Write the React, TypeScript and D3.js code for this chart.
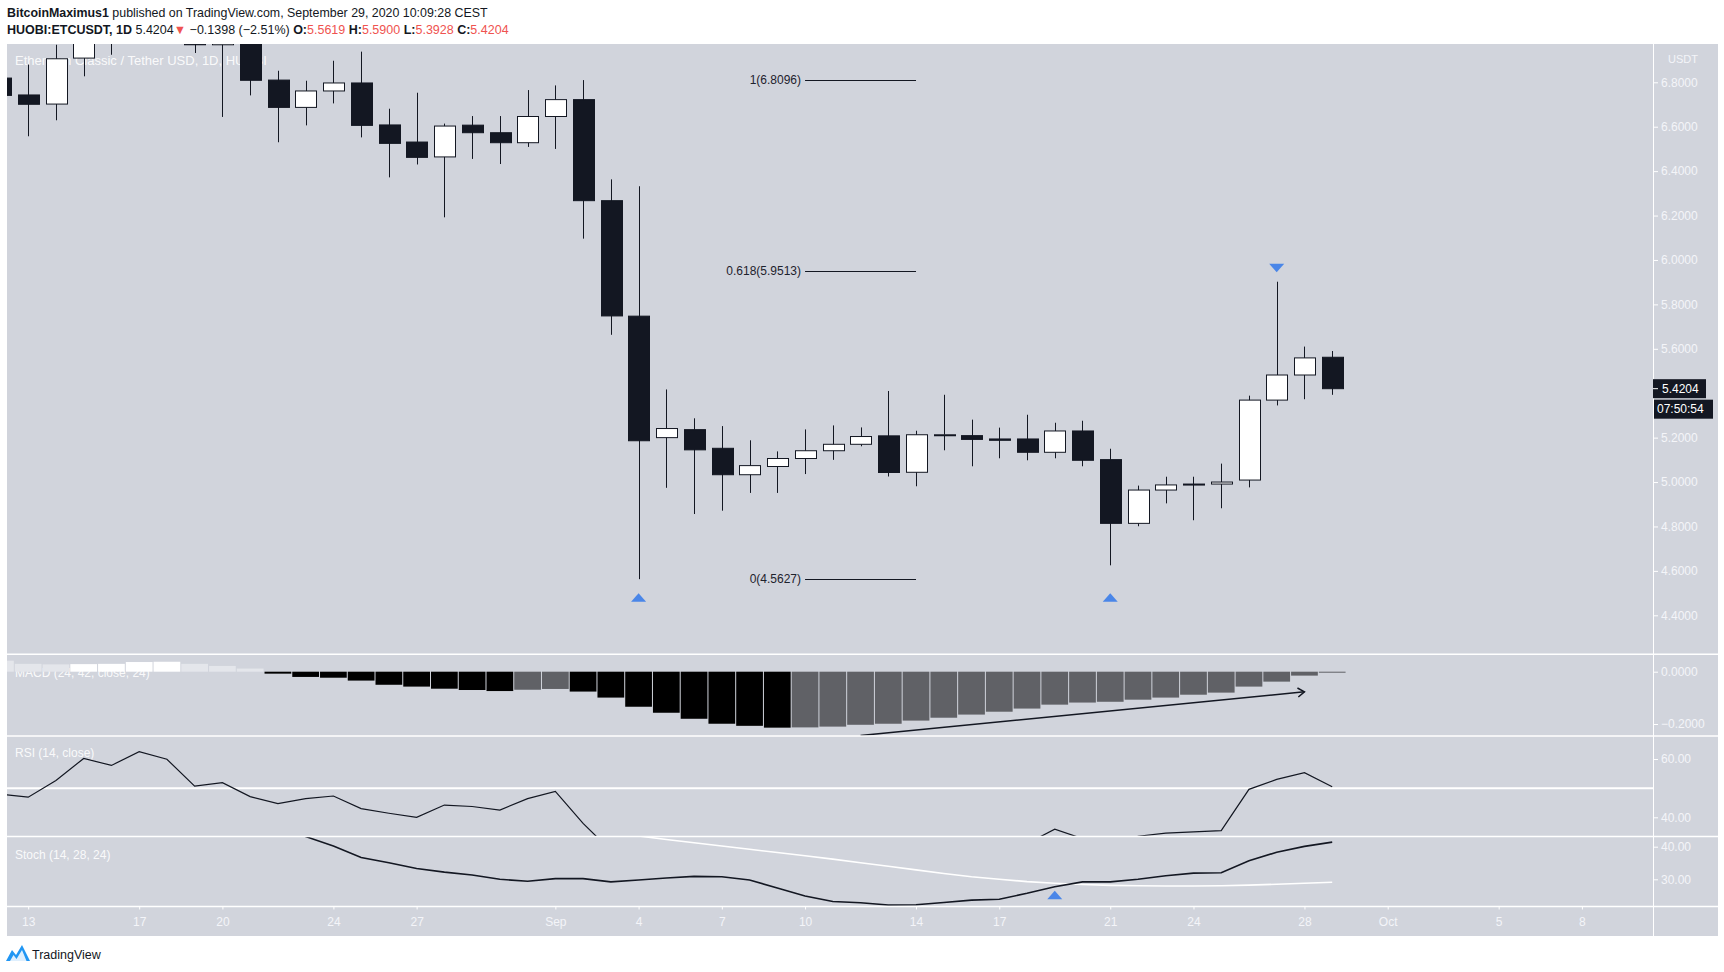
import React, { useEffect, useRef } from 'react';
import * as d3 from 'd3';

// ---- candles (1D, HUOBI:ETCUSDT) ----
const dates = [
  '2020-08-12', '2020-08-13', '2020-08-14', '2020-08-15', '2020-08-16', '2020-08-17', '2020-08-18',
  '2020-08-19', '2020-08-20', '2020-08-21', '2020-08-22', '2020-08-23', '2020-08-24', '2020-08-25',
  '2020-08-26', '2020-08-27', '2020-08-28', '2020-08-29', '2020-08-30', '2020-08-31', '2020-09-01',
  '2020-09-02', '2020-09-03', '2020-09-04', '2020-09-05', '2020-09-06', '2020-09-07', '2020-09-08',
  '2020-09-09', '2020-09-10', '2020-09-11', '2020-09-12', '2020-09-13', '2020-09-14', '2020-09-15',
  '2020-09-16', '2020-09-17', '2020-09-18', '2020-09-19', '2020-09-20', '2020-09-21', '2020-09-22',
  '2020-09-23', '2020-09-24', '2020-09-25', '2020-09-26', '2020-09-27', '2020-09-28', '2020-09-29',
];
const opens = [
  6.819, 6.743, 6.702, 6.909, 7.06, 7.01, 7.25, 7.2, 6.969, 7.01, 6.81, 6.687, 6.761, 6.797,
  6.608, 6.531, 6.464, 6.607, 6.573, 6.528, 6.646, 6.722, 6.267, 5.747, 5.2, 5.236, 5.152, 5.033,
  5.07, 5.106, 5.141, 5.17, 5.208, 5.044, 5.212, 5.209, 5.194, 5.194, 5.134, 5.23, 5.101, 4.814,
  4.964, 4.991, 4.991, 5.009, 5.369, 5.482, 5.5619,
];
const highs = [
  6.86, 6.88, 6.969, 7.12, 7.18, 7.35, 7.4, 7.26, 7.12, 7.06, 6.852, 6.807, 6.897, 6.938,
  6.681, 6.753, 6.614, 6.648, 6.648, 6.765, 6.786, 6.81, 6.363, 6.332, 5.417, 5.287, 5.252, 5.188,
  5.138, 5.237, 5.255, 5.246, 5.41, 5.231, 5.393, 5.281, 5.245, 5.303, 5.267, 5.276, 5.15, 4.984,
  5.024, 5.024, 5.083, 5.389, 5.902, 5.61, 5.59,
];
const lows = [
  6.7, 6.557, 6.629, 6.827, 6.924, 6.99, 7.05, 6.932, 6.644, 6.741, 6.53, 6.606, 6.705, 6.552,
  6.372, 6.43, 6.192, 6.455, 6.432, 6.509, 6.5, 6.096, 5.663, 4.5627, 4.974, 4.856, 4.871, 4.951,
  4.951, 5.036, 5.1, 5.161, 5.025, 4.981, 5.143, 5.071, 5.107, 5.098, 5.107, 5.071, 4.625, 4.801,
  4.904, 4.828, 4.882, 4.976, 5.345, 5.373, 5.3928,
];
const closes = [
  6.741, 6.701, 6.906, 7.06, 7.01, 7.25, 7.2, 6.969, 7.01, 6.809, 6.687, 6.761, 6.797, 6.606,
  6.525, 6.462, 6.603, 6.573, 6.528, 6.646, 6.722, 6.267, 5.748, 5.186, 5.241, 5.145, 5.033, 5.074,
  5.106, 5.141, 5.17, 5.205, 5.043, 5.213, 5.213, 5.192, 5.188, 5.134, 5.23, 5.098, 4.814, 4.964,
  4.987, 4.987, 5.0, 5.369, 5.482, 5.559, 5.4204,
];

// ---- indicators (same dates as candles unless a start date is given) ----
const macdHist = [
  0.042, 0.03, 0.028, 0.029, 0.03, 0.037, 0.038, 0.03, 0.022, 0.012, -0.0075, -0.02, -0.023, -0.034,
  -0.05, -0.057, -0.065, -0.07, -0.074, -0.069, -0.066, -0.076, -0.099, -0.134, -0.157, -0.18, -0.199, -0.207,
  -0.214, -0.213, -0.21, -0.203, -0.199, -0.187, -0.176, -0.164, -0.153, -0.141, -0.126, -0.118, -0.115, -0.107,
  -0.099, -0.088, -0.08, -0.057, -0.038, -0.015, -0.001,
];
const rsiValues = [
  47.9, 46.9, 52.6, 60.2, 57.8, 62.5, 59.9, 50.7, 51.9, 47.1, 44.7, 46.4, 47.3, 43.0,
  41.4, 40.0, 44.2, 43.7, 42.5, 46.4, 48.9, 37.9, 28.6, 23.5, 24.5, 23.6, 22.8, 23.8,
  24.8, 25.8, 26.7, 27.9, 26.5, 29.3, 29.4, 29.1, 29.0, 31.0, 35.9, 32.7, 27.5, 33.5,
  34.6, 35.0, 35.4, 49.6, 53.0, 55.3, 50.5,
];
const stochKStart = '2020-08-22';
const stochK = [
  47.5, 43.1, 40.2, 36.7, 35.1, 33.3, 32.2, 31.3, 30.0, 29.4, 30.2, 30.2, 29.2, 29.8, 30.4,
  30.9, 30.8, 29.8, 27.3, 24.9, 23.2, 22.8, 22.1, 22.2, 22.9, 23.6, 23.9, 25.7, 27.7, 29.2,
  29.2, 30.0, 31.1, 31.9, 32.0, 35.7, 38.3, 40.1, 41.4,
];
const stochDStart = '2020-09-03';
const stochD = [
  44.6, 43.3, 42.2, 41.2, 40.2, 39.2, 38.2, 37.2, 36.2, 35.1, 34.0, 32.9, 31.8, 30.8, 30.0,
  29.3, 28.8, 28.4, 28.15, 28.0, 27.95, 27.94, 28.0, 28.2, 28.5, 28.8, 29.1,
];

// ---- ticks (5.4000 sits under the last-price tag, so it is not shown) ----
const priceTicks = [4.4, 4.6, 4.8, 5.0, 5.2, 5.6, 5.8, 6.0, 6.2, 6.4, 6.6, 6.8];
const macdTicks = [0, -0.2];
const rsiTicks = [60, 40];
const stochTicks = [40, 30];
const dateTicks = [
  '2020-08-13', '2020-08-17', '2020-08-20', '2020-08-24', '2020-08-27', '2020-09-01', '2020-09-04',
  '2020-09-07', '2020-09-10', '2020-09-14', '2020-09-17', '2020-09-21', '2020-09-24', '2020-09-28',
  '2020-10-01', '2020-10-05', '2020-10-08',
];

// ---- drawings ----
const fibRatios = ['1', '0.618', '0'];
const fibPrices = [6.8096, 5.9513, 4.5627];
const fibFrom = '2020-09-10';
const fibTo = '2020-09-14';
const macdArrowDates = ['2020-09-12', '2020-09-28'];
const macdArrowValues = [-0.244, -0.077];
const markerDates = ['2020-09-04', '2020-09-21', '2020-09-27', '2020-09-19'];
const markerPanes = ['main', 'main', 'main', 'stoch'];
const markerValues = [4.48, 4.48, 5.964, 25.2];
const markerDirs = ['up', 'up', 'down', 'up'];

const FONT = '"Liberation Sans", Arial, sans-serif';
const BG = '#d1d4dc';
const INK = '#131722';
const AXIS_TEXT = '#f4f5f9';
const RED = '#ef5350';
const BLUE = '#4a86e8';

const LEFT = 7;
const AXIS_X = 1653;
const RIGHT = 1718;
const TOP = 44;
const MAIN_B = 654.3;
const MACD_B = 736;
const RSI_B = 836.5;
const STOCH_B = 906.5;
const BOTTOM = 936;

const App: React.FC = () => {
  const svgRef = useRef<SVGSVGElement>(null);

  useEffect(() => {
    if (!svgRef.current) return;
    const svg = d3.select(svgRef.current);
    svg.selectAll('*').remove();

    const parse = d3.utcParse('%Y-%m-%d');
    const pd = (s: string) => parse(s) as Date;

    const x = d3.scaleUtc()
      .domain([pd('2020-08-13'), pd('2020-10-08')])
      .range([28.2, 1581.9]);
    const dayW = x(pd('2020-08-14')) - x(pd('2020-08-13'));

    const yMain = d3.scaleLinear().domain([4.4, 6.8]).range([615.3, 82.3]);
    const yMacd = d3.scaleLinear().domain([-0.2, 0]).range([724, 671.7]);
    const yRsi = d3.scaleLinear().domain([40, 60]).range([817.3, 759]);
    const yStoch = d3.scaleLinear().domain([30, 40]).range([879.3, 846.7]);

    // clip paths for panes
    const defs = svg.append('defs');
    const clip = (id: string, y0: number, y1: number) => {
      defs.append('clipPath').attr('id', id)
        .append('rect').attr('x', LEFT).attr('y', y0).attr('width', AXIS_X - LEFT).attr('height', y1 - y0);
    };
    clip('clipMain', TOP, MAIN_B);
    clip('clipMacd', MAIN_B, MACD_B);
    clip('clipRsi', MACD_B, RSI_B);
    clip('clipStoch', RSI_B, STOCH_B);

    // background
    svg.append('rect').attr('x', 0).attr('y', 0).attr('width', 1724).attr('height', 972).attr('fill', '#ffffff');
    svg.append('rect').attr('x', LEFT).attr('y', TOP).attr('width', RIGHT - LEFT).attr('height', BOTTOM - TOP).attr('fill', BG);

    // pane titles (drawn under marks)
    const paneLabel = (t: string, y: number, size: number) => {
      svg.append('text').attr('x', 15).attr('y', y).attr('font-family', FONT).attr('font-size', size)
        .attr('fill', '#ffffff').attr('fill-opacity', 0.9).text(t);
    };
    paneLabel('Ethereum Classic / Tether USD, 1D, HUOBI', 65, 13);
    paneLabel('MACD (24, 42, close, 24)', 677, 12);
    paneLabel('RSI (14, close)', 757, 12);
    paneLabel('Stoch (14, 28, 24)', 859, 12);

    // ---- main pane: candles ----
    const candles = dates.map((d, i) => ({
      date: pd(d), open: opens[i], high: highs[i], low: lows[i], close: closes[i],
    }));
    const gMain = svg.append('g').attr('clip-path', 'url(#clipMain)');
    const bodyW = dayW * 0.74;

    gMain.selectAll('.wick')
      .data(candles)
      .enter()
      .append('line')
      .attr('class', 'wick')
      .attr('x1', d => Math.round(x(d.date)) + 0.5)
      .attr('x2', d => Math.round(x(d.date)) + 0.5)
      .attr('y1', d => yMain(d.high))
      .attr('y2', d => yMain(d.low))
      .attr('stroke', INK)
      .attr('stroke-width', 1);

    gMain.selectAll('.body')
      .data(candles)
      .enter()
      .append('rect')
      .attr('class', 'body')
      .attr('x', d => Math.round(x(d.date) - bodyW / 2) + 0.5)
      .attr('y', d => yMain(Math.max(d.open, d.close)))
      .attr('width', Math.round(bodyW))
      .attr('height', d => Math.max(1, Math.abs(yMain(d.open) - yMain(d.close))))
      .attr('fill', d => (d.close >= d.open ? '#ffffff' : INK))
      .attr('stroke', INK)
      .attr('stroke-width', 1);

    // fib retracement
    const fibX0 = x(pd(fibFrom));
    const fibX1 = x(pd(fibTo));
    fibPrices.forEach((p, i) => {
      gMain.append('line')
        .attr('x1', fibX0).attr('x2', fibX1)
        .attr('y1', Math.round(yMain(p)) + 0.5).attr('y2', Math.round(yMain(p)) + 0.5)
        .attr('stroke', INK).attr('stroke-width', 1);
      gMain.append('text')
        .attr('x', fibX0 - 4).attr('y', yMain(p)).attr('dy', '0.35em')
        .attr('text-anchor', 'end').attr('font-family', FONT).attr('font-size', 12)
        .attr('fill', '#1e222d')
        .text(`${fibRatios[i]}(${p.toFixed(4)})`);
    });

    // ---- MACD histogram ----
    const gMacd = svg.append('g').attr('clip-path', 'url(#clipMacd)');
    const macdData = dates.map((d, i) => ({ date: pd(d), v: macdHist[i], prev: i > 0 ? macdHist[i - 1] : macdHist[i] + 0.01 }));
    const histColor = (v: number, prev: number) => {
      if (v >= 0) return v > prev ? '#ffffff' : '#e4e6eb';
      return v < prev ? '#000000' : '#606166';
    };
    gMacd.selectAll('.hist')
      .data(macdData)
      .enter()
      .append('rect')
      .attr('x', d => x(d.date) - dayW / 2 + 0.5)
      .attr('width', dayW - 1)
      .attr('y', d => Math.min(yMacd(0), yMacd(d.v)))
      .attr('height', d => Math.max(1, Math.abs(yMacd(d.v) - yMacd(0))))
      .attr('fill', d => histColor(d.v, d.prev));

    // arrow annotation on MACD
    const ax0 = x(pd(macdArrowDates[0]));
    const ay0 = yMacd(macdArrowValues[0]);
    const ax1 = x(pd(macdArrowDates[1]));
    const ay1 = yMacd(macdArrowValues[1]);
    gMacd.append('line').attr('x1', ax0).attr('y1', ay0).attr('x2', ax1).attr('y2', ay1)
      .attr('stroke', INK).attr('stroke-width', 1.5);
    const ang = Math.atan2(ay1 - ay0, ax1 - ax0);
    const ah = 8;
    const headPts: [number, number][] = [
      [ax1 - ah * Math.cos(ang - 0.6), ay1 - ah * Math.sin(ang - 0.6)],
      [ax1, ay1],
      [ax1 - ah * Math.cos(ang + 0.6), ay1 - ah * Math.sin(ang + 0.6)],
    ];
    gMacd.append('path').attr('d', d3.line()(headPts))
      .attr('fill', 'none').attr('stroke', INK).attr('stroke-width', 1.5);

    // ---- RSI ----
    const gRsi = svg.append('g').attr('clip-path', 'url(#clipRsi)');
    gRsi.append('line').attr('x1', LEFT).attr('x2', AXIS_X)
      .attr('y1', yRsi(50)).attr('y2', yRsi(50))
      .attr('stroke', '#ffffff').attr('stroke-width', 2);
    const rsiLine = d3.line<number>()
      .x((_d, i) => x(pd(dates[i])))
      .y(d => yRsi(d));
    gRsi.append('path').attr('d', rsiLine(rsiValues))
      .attr('fill', 'none').attr('stroke', INK).attr('stroke-width', 1.2);

    // ---- Stochastic ----
    const gSt = svg.append('g').attr('clip-path', 'url(#clipStoch)');
    const kStart = pd(stochKStart);
    const dStart = pd(stochDStart);
    const stLine = (start: Date) => d3.line<number>()
      .x((_d, i) => x(d3.utcDay.offset(start, i)))
      .y(d => yStoch(d));
    gSt.append('path').attr('d', stLine(dStart)(stochD))
      .attr('fill', 'none').attr('stroke', '#ffffff').attr('stroke-width', 1.6);
    gSt.append('path').attr('d', stLine(kStart)(stochK))
      .attr('fill', 'none').attr('stroke', INK).attr('stroke-width', 1.6);

    // ---- markers ----
    markerDates.forEach((md, i) => {
      const cx = x(pd(md));
      const cy = markerPanes[i] === 'main' ? yMain(markerValues[i]) : yStoch(markerValues[i]);
      const hw = 7.5;
      const hh = 4.2;
      const pts: [number, number][] = markerDirs[i] === 'up'
        ? [[cx - hw, cy + hh], [cx + hw, cy + hh], [cx, cy - hh]]
        : [[cx - hw, cy - hh], [cx + hw, cy - hh], [cx, cy + hh]];
      const g = markerPanes[i] === 'main' ? gMain : gSt;
      g.append('path').attr('d', d3.line()(pts) + 'Z').attr('fill', BLUE);
    });

    // ---- separators & axis line ----
    [MAIN_B, MACD_B, RSI_B, STOCH_B].forEach(y => {
      svg.append('line').attr('x1', LEFT).attr('x2', RIGHT).attr('y1', y).attr('y2', y)
        .attr('stroke', '#ffffff').attr('stroke-width', 1.5);
    });
    svg.append('line').attr('x1', AXIS_X + 0.5).attr('x2', AXIS_X + 0.5).attr('y1', TOP).attr('y2', BOTTOM)
      .attr('stroke', '#ffffff').attr('stroke-width', 1);

    // ---- price axes ----
    const drawY = (scale: d3.ScaleLinear<number, number>, ticks: number[], fmt: (n: number) => string) => {
      const g = svg.append('g')
        .attr('transform', `translate(${AXIS_X},0)`)
        .call(d3.axisRight(scale).tickValues(ticks).tickFormat(d => fmt(d as number)).tickSize(5).tickPadding(3));
      g.select('.domain').remove();
      g.attr('font-family', FONT).attr('font-size', 12);
      g.selectAll('.tick line').attr('stroke', '#ffffff');
      g.selectAll('.tick text').attr('fill', AXIS_TEXT);
    };
    drawY(yMain, priceTicks, d3.format('.4f'));
    drawY(yMacd, macdTicks, d3.format('.4f'));
    drawY(yRsi, rsiTicks, d3.format('.2f'));
    drawY(yStoch, stochTicks, d3.format('.2f'));

    svg.append('text').attr('x', 1698).attr('y', 62.5).attr('text-anchor', 'end')
      .attr('font-family', FONT).attr('font-size', 11).attr('fill', AXIS_TEXT).text('USDT');

    // last price + countdown
    const lastY = yMain(closes[closes.length - 1]);
    svg.append('rect').attr('x', AXIS_X).attr('y', lastY - 9.5).attr('width', 53).attr('height', 19).attr('fill', INK);
    svg.append('line').attr('x1', AXIS_X).attr('x2', AXIS_X + 5).attr('y1', lastY).attr('y2', lastY)
      .attr('stroke', '#ffffff');
    svg.append('text').attr('x', AXIS_X + 9).attr('y', lastY).attr('dy', '0.35em')
      .attr('font-family', FONT).attr('font-size', 12).attr('fill', '#ffffff')
      .text(closes[closes.length - 1].toFixed(4));
    svg.append('rect').attr('x', AXIS_X + 1).attr('y', lastY + 11).attr('width', 59).attr('height', 19).attr('fill', INK);
    svg.append('text').attr('x', AXIS_X + 4).attr('y', lastY + 20.5).attr('dy', '0.35em')
      .attr('font-family', FONT).attr('font-size', 12).attr('fill', '#ffffff').text('07:50:54');

    // ---- time axis ----
    const fmtDate = (d: Date) => (d.getUTCDate() === 1 ? d3.utcFormat('%b')(d) : d3.utcFormat('%-d')(d));
    const gx = svg.append('g')
      .attr('transform', `translate(0,${STOCH_B})`)
      .call(d3.axisBottom(x).tickValues(dateTicks.map(pd)).tickFormat(d => fmtDate(d as Date)).tickSize(3).tickPadding(8));
    gx.select('.domain').remove();
    gx.attr('font-family', FONT).attr('font-size', 12);
    gx.selectAll('.tick line').attr('stroke', '#ffffff');
    gx.selectAll('.tick text').attr('fill', AXIS_TEXT);

    // ---- header ----
    const h1 = svg.append('text').attr('x', 7).attr('y', 17).attr('font-family', FONT).attr('font-size', 12.4).attr('fill', INK);
    h1.append('tspan').attr('font-weight', 'bold').text('BitcoinMaximus1');
    h1.append('tspan').text(' published on TradingView.com, September 29, 2020 10:09:28 CEST');

    const h2 = svg.append('text').attr('x', 7).attr('y', 34).attr('font-family', FONT).attr('font-size', 12.5).attr('fill', INK);
    const parts: [string, boolean, boolean][] = [
      ['HUOBI:ETCUSDT, 1D', true, false],
      ['\u00a05.4204', false, false],
      ['\u25BC', false, true],
      ['\u00a0\u22120.1398 (\u22122.51%)\u00a0', false, false],
      ['O:', true, false], ['5.5619', false, true],
      ['\u00a0H:', true, false], ['5.5900', false, true],
      ['\u00a0L:', true, false], ['5.3928', false, true],
      ['\u00a0C:', true, false], ['5.4204', false, true],
    ];
    parts.forEach(([t, bold, red]) => {
      h2.append('tspan')
        .attr('font-weight', bold ? 'bold' : 'normal')
        .attr('fill', red ? RED : INK)
        .text(t);
    });

    // ---- footer logo ----
    const logo = svg.append('g').attr('transform', 'translate(6,945)');
    logo.append('path')
      .attr('d', 'M0 16 L6 5 L10 10 L16 0 L24 16 Z')
      .attr('fill', '#2196f3');
    logo.append('path')
      .attr('d', 'M4 16 L7.5 10 L10.5 14 L16 5 L20.5 16 Z')
      .attr('fill', '#ffffff').attr('fill-opacity', 0.85);
    svg.append('text').attr('x', 32).attr('y', 958.5).attr('font-family', FONT).attr('font-size', 12.5)
      .attr('fill', INK).text('TradingView');
  }, []);

  return (
    <svg
      ref={svgRef}
      width={1724}
      height={972}
      style={{ position: 'absolute', left: 0, top: 0, display: 'block' }}
    />
  );
};

export default App;
